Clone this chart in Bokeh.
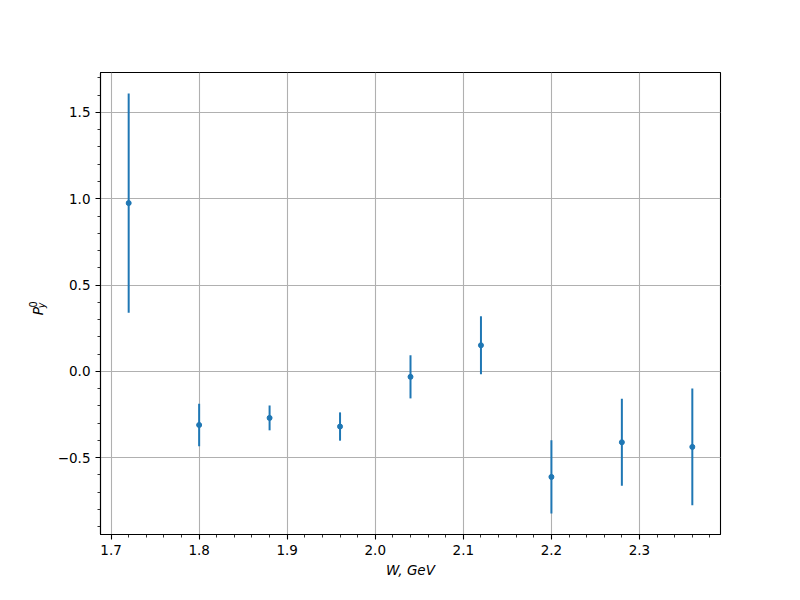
import numpy as np
from bokeh.plotting import figure
from bokeh.layouts import row
from bokeh.models import FixedTicker, Range1d, ColumnDataSource
from bokeh.core.properties import value
from bokeh.embed import file_html
from bokeh.resources import INLINE

# data
w_gev = [1.72, 1.80, 1.88, 1.96, 2.04, 2.12, 2.20, 2.28, 2.36]
py0 = [0.975, -0.311, -0.270, -0.320, -0.032, 0.151, -0.612, -0.411, -0.438]
py0_err = [0.635, 0.123, 0.072, 0.082, 0.125, 0.168, 0.212, 0.252, 0.338]

x_ticks = [1.7, 1.8, 1.9, 2.0, 2.1, 2.2, 2.3]
x_tick_labels = ["1.7", "1.8", "1.9", "2.0", "2.1", "2.2", "2.3"]
y_ticks = [-0.5, 0.0, 0.5, 1.0, 1.5]
y_tick_labels = ["\u22120.5", "0.0", "0.5", "1.0", "1.5"]

x_label = "W, GeV"
y_label_main, y_label_sub, y_label_sup = "P", "y", "0"

C = "#1f77b4"
FONT = "DejaVu Sans"
H = 584          # canvas height
LW = 50          # width of the y-label strip

xs = np.array(w_gev)
ys = np.array(py0)
es = np.array(py0_err)
src = ColumnDataSource(dict(x=xs, y=ys, lo=ys - es, hi=ys + es))

x_span = xs.max() - xs.min()
y_lo, y_hi = (ys - es).min(), (ys + es).max()
y_span = y_hi - y_lo

p = figure(frame_width=620, frame_height=462,
           min_border_left=100 - LW, min_border_right=64,
           min_border_top=72, min_border_bottom=50,
           output_backend="svg", toolbar_location=None,
           x_range=Range1d(xs.min() - 0.05 * x_span, xs.max() + 0.05 * x_span),
           y_range=Range1d(y_lo - 0.05 * y_span, y_hi + 0.05 * y_span))
p.background_fill_color = "white"
p.border_fill_color = "white"
p.outline_line_color = "black"
p.outline_line_width = 1.1
p.outline_line_alpha = 1.0

x_minor = list(np.round(np.arange(1.68, 2.40, 0.02), 4))
y_minor = list(np.round(np.arange(-0.9, 1.75, 0.1), 4))
p.xaxis.ticker = FixedTicker(ticks=x_ticks, minor_ticks=x_minor)
p.yaxis.ticker = FixedTicker(ticks=y_ticks, minor_ticks=y_minor)
p.xaxis.major_label_overrides = {t: l for t, l in zip(x_ticks, x_tick_labels)}
p.yaxis.major_label_overrides = {t: l for t, l in zip(y_ticks, y_tick_labels)}

for ax in (p.xaxis, p.yaxis):
    ax.axis_line_color = "black"
    ax.axis_line_width = 1.1
    ax.major_tick_line_color = "black"
    ax.minor_tick_line_color = "black"
    ax.major_tick_line_width = 1.1
    ax.minor_tick_line_width = 0.8
    ax.major_tick_out = 5
    ax.major_tick_in = 0
    ax.minor_tick_out = 3
    ax.minor_tick_in = 0
    ax.major_label_text_font = FONT
    ax.major_label_text_font_size = "13.5px"
    ax.major_label_text_color = "black"
    ax.major_label_standoff = 5

p.xaxis.axis_label = x_label
p.xaxis.axis_label_text_font = FONT
p.xaxis.axis_label_text_font_style = "italic"
p.xaxis.axis_label_text_font_size = "13.5px"
p.xaxis.axis_label_text_color = "black"
p.xaxis.axis_label_standoff = 4

for g in (p.xgrid, p.ygrid):
    g.grid_line_color = "#b0b0b0"
    g.grid_line_width = 1.1
p.xgrid.ticker = p.xaxis.ticker
p.ygrid.ticker = p.yaxis.ticker

p.segment(x0="x", y0="lo", x1="x", y1="hi", source=src, line_color=C, line_width=2)
p.scatter(x="x", y="y", source=src, size=5, fill_color=C, line_color=C)

# y-axis label strip: P with subscript y and superscript 0 (rotated)
q = figure(width=LW, height=H, min_border=0, output_backend="svg",
           toolbar_location=None, x_range=Range1d(0, LW), y_range=Range1d(0, H))
q.axis.visible = False
q.grid.visible = False
q.outline_line_color = None
q.background_fill_color = "white"
q.border_fill_color = "white"
q.text(x=[37], y=[H - 307], text=[y_label_main], angle=np.pi / 2,
       text_font=value(FONT), text_font_style="italic", text_font_size="13.9px",
       text_baseline="alphabetic", text_align="left", text_color="black")
q.text(x=[32], y=[H - 297], text=[y_label_sup], angle=np.pi / 2,
       text_font=value(FONT), text_font_size="9.7px",
       text_baseline="alphabetic", text_align="left", text_color="black")
q.text(x=[41], y=[H - 298], text=[y_label_sub], angle=np.pi / 2,
       text_font=value(FONT), text_font_style="italic", text_font_size="9.7px",
       text_baseline="alphabetic", text_align="left", text_color="black")

layout = row(q, p, spacing=0)
open("out.html", "w").write(file_html(layout, INLINE))
